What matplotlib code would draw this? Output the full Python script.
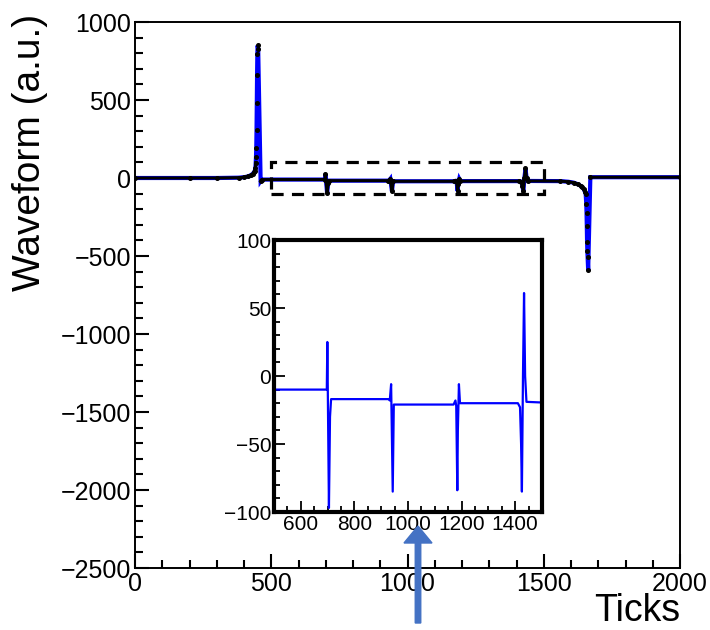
import matplotlib
matplotlib.use('Agg')
import matplotlib.pyplot as plt
from matplotlib.ticker import MultipleLocator
from matplotlib.patches import Rectangle, FancyArrow
from matplotlib.transforms import IdentityTransform
import numpy as np

plt.rcParams['font.family'] = ['Liberation Sans', 'DejaVu Sans']

# ---- data ----
wave_ticks = [0, 200, 300, 380, 400, 415, 425, 432, 437, 440, 442, 443, 444, 445, 446, 447, 448, 449, 450,
              452, 461, 465,
              697, 699, 705, 709, 713,
              928, 932, 937, 943, 947,
              1170, 1177, 1180, 1184, 1186, 1190, 1194,
              1410, 1418, 1422, 1425, 1429, 1433, 1437, 1442,
              1560, 1590, 1610, 1625, 1635, 1642, 1647, 1651, 1654, 1656, 1657, 1658, 1659, 1660, 1661, 1663,
              1671, 2000]
wave_vals = [0, 0, 0, 2, 5, 10, 18, 27, 38, 48, 66, 98, 134, 190, 309, 481, 663, 794, 850,
             830, -20, -10,
             -10, 25, -97, -30, -17,
             -17, -18, -6, -85, -21,
             -21, -18, -22, -84, -40, -6, -20,
             -20, -23, -50, -85, 0, 61, 0, -19,
             -20, -24, -30, -40, -50, -60, -72, -88, -104, -168, -222, -307, -413, -466, -509, -590,
             5, 5]

main_xlim = (0, 2000)
main_ylim = (-2500, 1000)
zoom_xlim = (500, 1500)
zoom_ylim = (-100, 100)

fig = plt.figure(figsize=(7.1, 6.3), dpi=100)
W, H = 710, 630

ax = fig.add_axes([135 / W, 1 - 568 / H, (680 - 135) / W, (568 - 22) / H])
vals_arr = np.array(wave_vals, float)
black_line = np.where(np.abs(vals_arr) > 100, np.nan, vals_arr)
ax.plot(wave_ticks, wave_vals, color='#0000ff', lw=3.0, zorder=2, solid_joinstyle='miter')
ax.plot(wave_ticks, black_line, color='black', lw=2.2, zorder=3)
ax.plot(wave_ticks, wave_vals, ls='none', marker='o', ms=2.6, color='black', zorder=4)

ax.add_patch(Rectangle((zoom_xlim[0], zoom_ylim[0]), zoom_xlim[1] - zoom_xlim[0],
                       zoom_ylim[1] - zoom_ylim[0], fill=False, ec='black',
                       lw=2.3, ls=(0, (3.8, 2.6)), zorder=5))

ax.set_xlim(*main_xlim)
ax.set_ylim(*main_ylim)
ax.xaxis.set_major_locator(MultipleLocator(500))
ax.xaxis.set_minor_locator(MultipleLocator(100))
ax.yaxis.set_major_locator(MultipleLocator(500))
ax.yaxis.set_minor_locator(MultipleLocator(100))
ax.tick_params(which='both', direction='in', top=False, right=False, width=1.5)
ax.tick_params(which='major', length=10, labelsize=18, pad=3)
ax.tick_params(which='minor', length=5.5)
for s in ax.spines.values():
    s.set_linewidth(1.4)

fig.text(30 / W, 1 - 14 / H, 'Waveform (a.u.)', rotation=90, ha='center', va='top', fontsize=28)
fig.text(680 / W, 1 - 629 / H, 'Ticks', ha='right', va='bottom', fontsize=27)

# inset
axin = fig.add_axes([274 / W, 1 - 512 / H, 268 / W, 272 / H])
axin.set_facecolor('white')
axin.plot(wave_ticks, wave_vals, color='#0000ff', lw=1.6)
axin.set_xlim(*zoom_xlim)
axin.set_ylim(*zoom_ylim)
axin.xaxis.set_major_locator(MultipleLocator(200))
axin.xaxis.set_minor_locator(MultipleLocator(50))
axin.yaxis.set_major_locator(MultipleLocator(50))
axin.yaxis.set_minor_locator(MultipleLocator(10))
axin.tick_params(which='both', direction='in', top=False, right=False, width=1.3)
axin.tick_params(which='major', length=8, labelsize=15, pad=2)
axin.tick_params(which='minor', length=4)
for s in axin.spines.values():
    s.set_linewidth(3)

arrow = FancyArrow(418, 7, 0, 97, width=5.5, head_width=28, head_length=17,
                   length_includes_head=True, color='#4472C4', transform=IdentityTransform())
fig.add_artist(arrow)

fig.savefig('out.png', dpi=100)
